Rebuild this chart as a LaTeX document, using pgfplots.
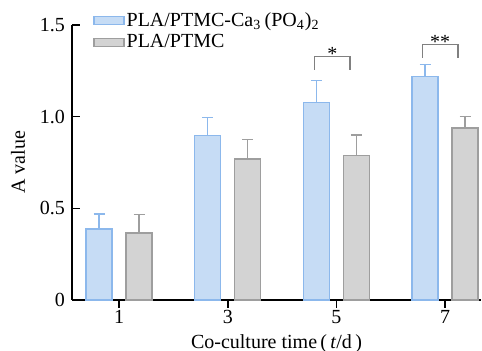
\documentclass[border=0pt]{standalone}
\usepackage{fontspec}
\setmainfont{Liberation Serif}
\usepackage{pgfplots}
\pgfplotsset{compat=1.18}
\definecolor{bfill}{RGB}{198,220,245}
\definecolor{bedge}{RGB}{140,184,236}
\definecolor{gfill}{RGB}{211,211,211}
\definecolor{gedge}{RGB}{158,158,158}
\definecolor{brk}{RGB}{128,128,128}
\begin{document}
\begin{tikzpicture}
\begin{axis}[
  scale only axis, width=204.5pt, height=137.5pt,
  xmin=0.134, xmax=7.66, ymin=0, ymax=1.5,
  axis x line*=bottom, axis y line*=left,
  axis line style={line width=0.8pt, black, -},
  xtick={1,3,5,7}, ytick={0,0.5,1,1.5}, yticklabels={0,0.5,1.0,1.5},
  tick align=inside, major tick length=4pt,
  tick style={line width=0.8pt, black},
  /pgf/number format/assume math mode=true,
  xticklabel style={yshift=2.2pt},
  xlabel={Co-culture time\,(\,\textit{t}/d\,)},
  ylabel={A value},
  xlabel style={at={(axis description cs:0.5,-0.16)}, anchor=center},
  ylabel style={at={(axis description cs:-0.132,0.5)}, anchor=center},
  ybar, bar width=13pt,
  legend style={at={(axis description cs:0.051,1.055)}, anchor=north west,
    draw=none, fill=none, inner sep=0pt, row sep=0.5pt,
    nodes={inner sep=1pt}},
  legend cell align=left,
  clip=false,
]
\addplot[fill=bfill, draw=bedge, line width=0.7pt, bar shift=-10pt,
  legend image code/.code={\draw[fill=bfill, draw=bedge, line width=0.7pt] (0pt,-2pt) rectangle (15pt,2pt);},
  error bars/.cd, y dir=plus, y explicit,
  error bar style={bedge, line width=0.7pt},
  error mark options={rotate=90, bedge, mark size=2.75pt, line width=0.7pt}]
  coordinates {(1,0.388) +- (0,0.080) (3,0.896) +- (0,0.100) (5,1.076) +- (0,0.120) (7,1.218) +- (0,0.066)};
\addlegendentry{PLA/PTMC-Ca\textsubscript{3}\,(PO\textsubscript{4})\textsubscript{2}}
\addplot[fill=gfill, draw=gedge, line width=0.7pt, bar shift=10pt,
  legend image code/.code={\draw[fill=gfill, draw=gedge, line width=0.7pt] (0pt,-2pt) rectangle (15pt,2pt);},
  error bars/.cd, y dir=plus, y explicit,
  error bar style={gedge, line width=0.7pt},
  error mark options={rotate=90, gedge, mark size=2.75pt, line width=0.7pt}]
  coordinates {(1,0.366) +- (0,0.100) (3,0.770) +- (0,0.104) (5,0.787) +- (0,0.113) (7,0.938) +- (0,0.062)};
\addlegendentry{PLA/PTMC}
\draw[brk, line width=0.7pt] (axis cs:4.60,1.257) |- (axis cs:5.25,1.328) -- (axis cs:5.25,1.257);
\node[anchor=base, inner sep=0pt] at (axis cs:4.925,1.305) {*};
\draw[brk, line width=0.7pt] (axis cs:6.58,1.322) |- (axis cs:7.24,1.393) -- (axis cs:7.24,1.322);
\node[anchor=base, inner sep=0pt] at (axis cs:6.91,1.37) {**};
\coordinate (O) at (rel axis cs:0,0);
\end{axis}
\pgfresetboundingbox
\path ([xshift=-36pt,yshift=-25.5pt]O) rectangle ([xshift=205pt,yshift=150pt]O);
\end{tikzpicture}
\end{document}
